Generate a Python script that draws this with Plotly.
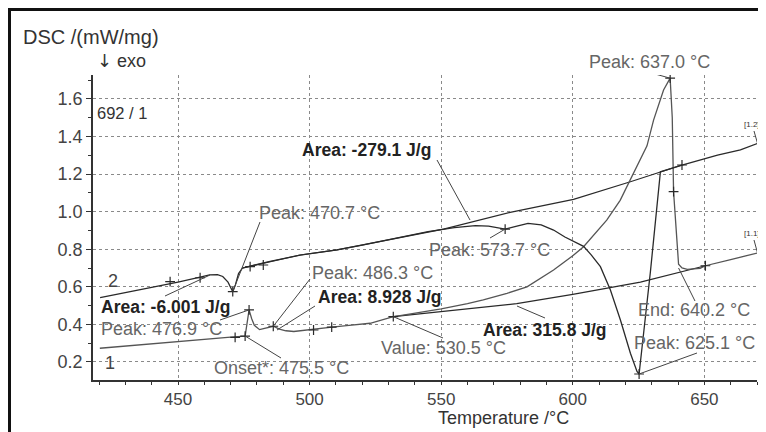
import plotly.graph_objects as go

# ---------------- data ----------------
# curve 1 (heating)
heat_T = [420.3, 430, 440, 450, 460, 470, 475.5, 476.3, 477.0, 478.0, 479.0, 481.0, 483.5,
          486.2, 488.5, 491, 494, 500, 508.5, 515, 523, 531.5, 540, 550, 560, 566, 575,
          582.6, 592.7, 600, 604.1, 612.9, 618, 621.9, 625, 628.2, 630.7, 634.5, 637.0,
          637.8, 638.3, 639.4, 640.2, 641.5, 643.5, 648.4, 650.4, 660, 670.2]
heat_V = [0.273, 0.285, 0.298, 0.311, 0.323, 0.332, 0.338, 0.41, 0.477, 0.43, 0.395, 0.372, 0.38,
          0.39, 0.375, 0.366, 0.362, 0.370, 0.385, 0.395, 0.406, 0.440, 0.458, 0.482, 0.51, 0.53, 0.565,
          0.600, 0.689, 0.765, 0.813, 0.955, 1.06, 1.168, 1.255, 1.35, 1.487, 1.647, 1.71,
          1.50, 1.106, 0.85, 0.72, 0.70, 0.693, 0.698, 0.712, 0.745, 0.780]

# curve 2 (cooling)
cool_T = [420.4, 430, 440, 450, 458, 462, 465, 467, 469, 470.8, 471.8, 473, 474.5, 478, 485,
          496.4, 510.4, 520, 530, 540, 545, 555, 563, 568, 574.3, 578, 583, 588, 592.7, 597,
          600, 604.1, 607, 610.5, 614.3, 618.1, 621.9, 624.4, 625.2, 629.5, 633.3, 641.5,
          655, 663.7, 670.2]
cool_V = [0.542, 0.568, 0.595, 0.625, 0.650, 0.663, 0.665, 0.655, 0.625, 0.574, 0.610, 0.670, 0.700, 0.712, 0.735,
          0.769, 0.796, 0.822, 0.850, 0.877, 0.893, 0.915, 0.926, 0.923, 0.907, 0.920, 0.937, 0.930, 0.902, 0.865,
          0.845, 0.815, 0.77, 0.707, 0.583, 0.423, 0.246, 0.15, 0.136, 0.68, 1.212, 1.248,
          1.30, 1.328, 1.363]

# integration baselines
base1_T = [531.8, 578.7, 600, 625.7, 650.4]
base1_V = [0.441, 0.51, 0.56, 0.625, 0.712]
base2_T = [474.5, 496.4, 510.4, 550.9, 576.2, 600.3, 621.9, 633.3, 641.5]
base2_V = [0.700, 0.769, 0.796, 0.907, 0.996, 1.065, 1.159, 1.212, 1.248]

# characteristic points (+ markers)
event_T = [447.0, 458.4, 477.4, 482.4, 641.5, 470.8, 574.3, 625.2, 637.0,
           471.7, 475.5, 477.0, 486.2, 501.5, 508.4, 531.8, 638.3, 650.4]
event_V = [0.628, 0.648, 0.707, 0.716, 1.248, 0.574, 0.907, 0.136, 1.71,
           0.331, 0.338, 0.477, 0.39, 0.370, 0.385, 0.441, 1.106, 0.712]

x_ticks = [450, 500, 550, 600, 650]
y_ticks = [0.2, 0.4, 0.6, 0.8, 1.0, 1.2, 1.4, 1.6]

# ---------------- geometry helpers ----------------
# page pixel coordinates of the reference; the page body adds an 8 px offset
OFF = 8
PAGE_W, PAGE_H = 766, 432
FW, FH = PAGE_W - OFF, PAGE_H - OFF
L, R, TOP, BOT = 93, 757, 75, 380
X_RANGE = [417.7, 670.0]
Y_RANGE = [0.104, 1.727]


def xd(xp):
    return X_RANGE[0] + (xp - L) / (R - L) * (X_RANGE[1] - X_RANGE[0])


def yd(yp):
    return Y_RANGE[0] + (BOT - yp) / (BOT - TOP) * (Y_RANGE[1] - Y_RANGE[0])


def xpap(xp):
    return (xp - L) / (R - L)


def ypap(yp):
    return (BOT - yp) / (BOT - TOP)


FONT = "Liberation Sans, Arial, sans-serif"
DARK = "#2a2a2a"
GREY = "#666666"

fig = go.Figure()
fig.add_trace(go.Scatter(x=base1_T, y=base1_V, mode="lines", line=dict(color=DARK, width=1.2),
                         hoverinfo="skip"))
fig.add_trace(go.Scatter(x=base2_T, y=base2_V, mode="lines", line=dict(color=DARK, width=1.2),
                         hoverinfo="skip"))
fig.add_trace(go.Scatter(x=heat_T, y=heat_V, mode="lines", line=dict(color="#555555", width=1.3),
                         name="1"))
fig.add_trace(go.Scatter(x=cool_T, y=cool_V, mode="lines", line=dict(color=DARK, width=1.3),
                         name="2"))
fig.add_trace(go.Scatter(x=event_T, y=event_V, mode="markers",
                         marker=dict(symbol="cross-thin", size=7, line=dict(width=1.2, color=DARK)),
                         hoverinfo="skip"))

annotations = []


def txt(text, xp, yp, size=18, color=GREY, bold=False, anchor="left"):
    if bold:
        text = "<b>" + text + "</b>"
    annotations.append(dict(text=text, x=xpap(xp), y=ypap(yp), xref="paper", yref="paper",
                            xanchor=anchor, yanchor="middle", showarrow=False,
                            font=dict(family=FONT, size=size, color=color)))


txt("DSC /(mW/mg)", 21, 37, size=20, color="#333333")
txt("<span style='font-family:DejaVu Sans'>↓</span> exo", 95, 61, size=18, color="#333333")
txt("692 / 1", 95, 113, size=16.5, color="#333333")
txt("Peak: 637.0 °C", 587, 62)
txt("Area: -279.1 J/g", 300, 150, size=17.5, color="#222222", bold=True)
txt("Peak: 470.7 °C", 257, 213)
txt("Peak: 573.7 °C", 427, 250)
txt("Peak: 486.3 °C", 310, 273)
txt("Area: 8.928 J/g", 316, 297, size=17.5, color="#222222", bold=True)
txt("Area: -6.001 J/g", 99, 307, size=17.5, color="#222222", bold=True)
txt("Peak: 476.9 °C", 99, 329)
txt("Onset*: 475.5 °C", 212, 368)
txt("Value: 530.5 °C", 379, 348)
txt("Area: 315.8 J/g", 481, 330, size=17.5, color="#222222", bold=True)
txt("End: 640.2 °C", 636, 310)
txt("Peak: 625.1 °C", 632, 343)
txt("2", 106, 281, size=18, color="#444444")
txt("1", 103, 363, size=18, color="#444444")
txt("[1.2]", 742, 125, size=8, color="#333333")
txt("[1.1]", 742, 233, size=8, color="#333333")
txt("Temperature /°C", 503, 418, size=18, color="#333333", anchor="center")

shapes = []


def lead(x0, y0, x1, y1):
    shapes.append(dict(type="line", xref="x", yref="y", x0=x0, y0=y0, x1=x1, y1=y1,
                       line=dict(color="#444444", width=1)))


# leader lines: (text side in px) -> (point on curve)
lead(xd(648), yd(72), event_T[8], event_V[8])          # Peak 637.0
lead(xd(437), yd(160), xd(470), yd(220))                # Area -279.1
lead(xd(260), yd(222), event_T[5], event_V[5])          # Peak 470.7
lead(xd(490), yd(238), event_T[6], event_V[6])          # Peak 573.7
lead(xd(310), yd(279), event_T[12], event_V[12])        # Peak 486.3
lead(xd(315), yd(306), xd(277), yd(330))                # Area 8.928
lead(xd(165), yd(296), xd(210), yd(275))                # Area -6.001
lead(xd(220), yd(320), event_T[11], event_V[11])        # Peak 476.9
lead(xd(281), yd(358), event_T[10], event_V[10])        # Onset
lead(xd(443), yd(338), event_T[15], event_V[15])        # Value
lead(xd(545), yd(318), xd(517), yd(306))                # Area 315.8
lead(xd(695), yd(301), 640.2, 0.70)                     # End
lead(xd(697), yd(353), event_T[7], event_V[7])          # Peak 625.1
lead(xd(754), yd(131), cool_T[-1], cool_V[-1])          # [1.2]
lead(xd(754), yd(240), heat_T[-1], heat_V[-1])          # [1.1]

# outer frame (top and left)
shapes.append(dict(type="line", xref="paper", yref="paper", x0=xpap(8), x1=xpap(PAGE_W),
                   y0=ypap(9.5), y1=ypap(9.5), line=dict(color="#111111", width=3)))
shapes.append(dict(type="line", xref="paper", yref="paper", x0=xpap(9.5), x1=xpap(9.5),
                   y0=ypap(8), y1=ypap(PAGE_H), line=dict(color="#111111", width=3)))

fig.update_layout(
    width=FW, height=FH,
    margin=dict(l=L - OFF, r=FW - (R - OFF), t=TOP - OFF, b=FH - (BOT - OFF)),
    paper_bgcolor="white", plot_bgcolor="white",
    showlegend=False,
    annotations=annotations,
    shapes=shapes,
    font=dict(family=FONT, size=18, color="#444444"),
)
fig.update_xaxes(range=X_RANGE, tickvals=x_ticks, ticks="outside", ticklen=3, tickcolor="#333",
                 showline=True, linecolor="#333", linewidth=1.5,
                 showgrid=True, gridcolor="#8a8a8a", gridwidth=1, griddash="3px,3px",
                 zeroline=False, tickfont=dict(size=17, color="#444444"),
                 minor=dict(dtick=10, tick0=450, ticks="outside", ticklen=3, tickcolor="#333",
                            showgrid=False))
fig.update_yaxes(range=Y_RANGE, tickvals=y_ticks, ticktext=[f"{v:.1f}" for v in y_ticks],
                 ticks="outside", ticklen=5, tickcolor="#333",
                 showline=True, linecolor="#333", linewidth=1.5,
                 showgrid=True, gridcolor="#8a8a8a", gridwidth=1, griddash="3px,3px",
                 zeroline=False, tickfont=dict(size=18, color="#444444"),
                 minor=dict(dtick=0.1, tick0=0.2, ticks="outside", ticklen=3, tickcolor="#333",
                            showgrid=False))

fig.write_html("out.html")
